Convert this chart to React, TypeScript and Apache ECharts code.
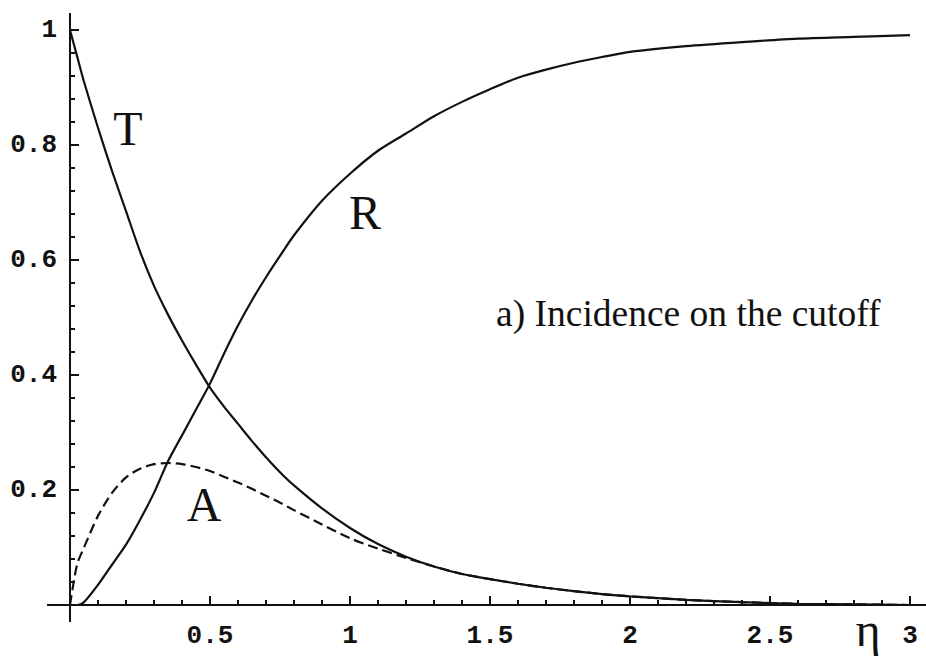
import React, { useEffect, useRef } from "react";
import * as echarts from "echarts";

// η sample positions shared by the three curves
const etaSamples = [
  0, 0.025, 0.05, 0.1, 0.15, 0.2, 0.25, 0.3, 0.35, 0.4, 0.45, 0.5, 0.55, 0.6, 0.65, 0.7, 0.75,
  0.8, 0.9, 1.0, 1.1, 1.2, 1.3, 1.4, 1.5, 1.6, 1.7, 1.8, 1.9, 2.0, 2.2, 2.4, 2.6, 2.8, 3.0,
];

// Transmission T(η)
const transmission = [
  1.0, 0.955, 0.91, 0.83, 0.755, 0.685, 0.615, 0.555, 0.505, 0.46, 0.418, 0.378, 0.345, 0.315,
  0.285, 0.257, 0.231, 0.208, 0.168, 0.134, 0.106, 0.084, 0.067, 0.054, 0.045, 0.037, 0.03,
  0.024, 0.019, 0.015, 0.009, 0.005, 0.002, 0.001, 0.0,
];

// Reflection R(η)
const reflection = [
  0, 0, 0.005, 0.035, 0.07, 0.105, 0.148, 0.195, 0.25, 0.295, 0.34, 0.385, 0.437, 0.486, 0.53,
  0.57, 0.607, 0.643, 0.703, 0.75, 0.79, 0.82, 0.85, 0.875, 0.897, 0.917, 0.931, 0.943, 0.953,
  0.962, 0.972, 0.979, 0.985, 0.988, 0.991,
];

// Absorption A(η), dashed
const absorption = [
  0, 0.07, 0.1, 0.155, 0.195, 0.222, 0.237, 0.245, 0.247, 0.245, 0.24, 0.233, 0.223, 0.213,
  0.202, 0.19, 0.178, 0.165, 0.14, 0.116, 0.098, 0.082, 0.067, 0.054, 0.045, 0.037, 0.03, 0.024,
  0.019, 0.015, 0.009, 0.005, 0.002, 0.001, 0,
];

const curveLabels = ["T", "R", "A"];
const caption = "a) Incidence on the cutoff";
const xAxisTitle = "η";

// Axis ranges and tick spacing
const X_MAX = 3;
const X_MAJOR = 0.5;
const X_MINOR_PER_MAJOR = 5;
const Y_MAX = 1;
const Y_MAJOR = 0.2;
const Y_MINOR_PER_MAJOR = 5;

const INK = "#111";
const MONO = "'Liberation Mono', 'DejaVu Sans Mono', monospace";
const SERIF = "'Liberation Serif', 'DejaVu Serif', serif";

export default function App() {
  const ref = useRef<HTMLDivElement>(null);

  useEffect(() => {
    if (!ref.current) return;
    const chart = echarts.init(ref.current, undefined, { renderer: "svg" });

    const toPairs = (vals: number[]) => etaSamples.map((e, i) => [e, vals[i]]);
    const curve = (name: string, vals: number[], dashed = false) => ({
      name,
      type: "line",
      data: toPairs(vals),
      smooth: 0.25,
      showSymbol: false,
      symbol: "none",
      clip: false,
      lineStyle: { color: INK, width: 2.2, type: dashed ? [10, 5] : "solid" },
      z: 3,
    });

    const tickFormatter = (v: number) => (v === 0 ? "" : String(Math.round(v * 10) / 10));

    const axisCommon = {
      type: "value",
      axisLine: { show: false },
      axisTick: { show: false },
      minorTick: { show: false },
      splitLine: { show: false },
      minorSplitLine: { show: false },
    };

    chart.setOption({
      animation: false,
      backgroundColor: "#fff",
      grid: { left: 70, right: 16, top: 30, bottom: 54, containLabel: false, outerBoundsMode: "none" },
      xAxis: {
        ...axisCommon,
        min: 0,
        max: X_MAX,
        interval: X_MAJOR,
        axisLabel: {
          margin: 18,
          color: INK,
          fontFamily: MONO,
          fontWeight: "bold",
          fontSize: 26,
          formatter: tickFormatter,
        },
      },
      yAxis: {
        ...axisCommon,
        min: 0,
        max: Y_MAX,
        interval: Y_MAJOR,
        axisLabel: {
          margin: 13,
          color: INK,
          fontFamily: MONO,
          fontWeight: "bold",
          fontSize: 26,
          formatter: tickFormatter,
        },
      },
      series: [
        curve("T", transmission),
        curve("R", reflection),
        curve("A", absorption, true),
      ],
    });

    const toPx = (x: number, y: number) => chart.convertToPixel({ gridIndex: 0 }, [x, y]) as number[];
    const origin = toPx(0, 0);
    const top = toPx(0, Y_MAX);
    const width = chart.getWidth();
    const overhang = 17;
    const stroke = { stroke: INK, lineWidth: 2 };

    // Axes cross at the origin and run a little past the plotting area
    const axes = [
      { type: "line", shape: { x1: origin[0] - 23, y1: origin[1], x2: width, y2: origin[1] }, style: stroke, z: 5 },
      { type: "line", shape: { x1: origin[0], y1: top[1] - overhang, x2: origin[0], y2: origin[1] + overhang }, style: stroke, z: 5 },
    ];

    // Tick marks pointing into the plot: long at labelled values, short in between
    const ticks: any[] = [];
    const xSteps = Math.round((X_MAX / X_MAJOR) * X_MINOR_PER_MAJOR);
    for (let i = 1; i <= xSteps; i++) {
      const v = (i * X_MAJOR) / X_MINOR_PER_MAJOR;
      const p = toPx(v, 0);
      const len = i % X_MINOR_PER_MAJOR === 0 ? 9 : 5;
      ticks.push({ type: "rect", shape: { x: p[0] - 1, y: p[1] - len, width: 2, height: len }, style: { fill: INK }, z: 5 });
    }
    const ySteps = Math.round((Y_MAX / Y_MAJOR) * Y_MINOR_PER_MAJOR);
    for (let i = 1; i <= ySteps; i++) {
      const v = (i * Y_MAJOR) / Y_MINOR_PER_MAJOR;
      const p = toPx(0, v);
      const len = i % Y_MINOR_PER_MAJOR === 0 ? 9 : 5;
      ticks.push({ type: "rect", shape: { x: p[0], y: p[1] - 1, width: len, height: 2 }, style: { fill: INK }, z: 5 });
    }

    const label = (text: string, x: number, y: number, size: number, align = "center") => ({
      type: "text",
      x,
      y,
      style: { text, font: `${size}px ${SERIF}`, fill: INK, textAlign: align, textVerticalAlign: "middle" },
      z: 6,
    });

    chart.setOption({
      graphic: [
        ...axes,
        ...ticks,
        label(curveLabels[0], 128, 128, 48),
        label(curveLabels[1], 365, 212, 48),
        label(curveLabels[2], 204, 504, 48),
        label(caption, 496, 313, 37.5, "left"),
        label(xAxisTitle, 868, 629, 48),
      ],
    });

    return () => chart.dispose();
  }, []);

  return (
    <div
      ref={ref}
      style={{ position: "fixed", left: 0, top: 0, width: 926, height: 659, background: "#fff" }}
    />
  );
}
